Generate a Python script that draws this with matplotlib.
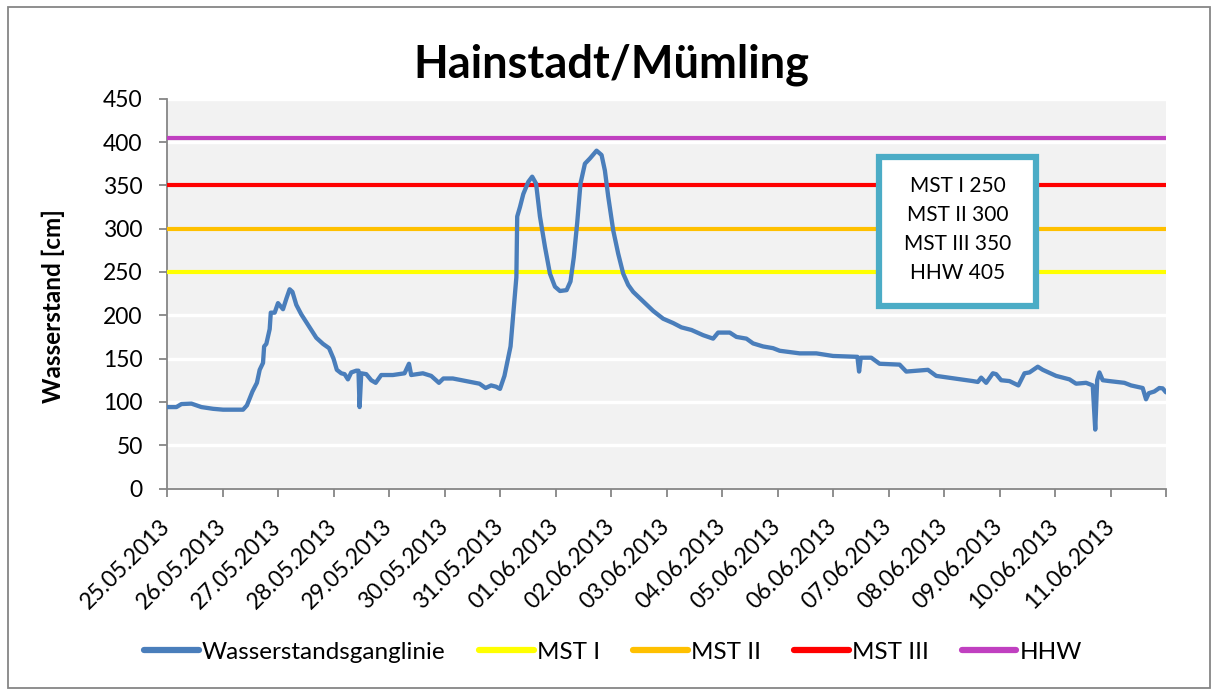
import datetime as dt
import matplotlib
matplotlib.use("Agg")
import matplotlib.pyplot as plt
from matplotlib.patches import Rectangle

plt.rcParams['font.family'] = ['Lato', 'DejaVu Sans']

# ---- data ----
start_date = dt.datetime(2013, 5, 25)
end_date = dt.datetime(2013, 6, 12)
days_since_start = [0, 0.17, 0.26, 0.44, 0.53, 0.62, 0.83, 1.01, 1.37, 1.44, 1.54, 1.62, 1.67, 1.73,
                    1.75, 1.79, 1.85, 1.87, 1.94, 2.0, 2.09, 2.15, 2.21, 2.26, 2.33, 2.42, 2.54, 2.69,
                    2.81, 2.92, 3.0, 3.06, 3.14, 3.2, 3.26, 3.32, 3.41, 3.45, 3.47, 3.5, 3.59, 3.68,
                    3.76, 3.86, 4.07, 4.28, 4.36, 4.4, 4.61, 4.76, 4.9, 4.98, 5.15, 5.39, 5.63, 5.74,
                    5.84, 5.93, 6.0, 6.08, 6.19, 6.235, 6.295, 6.31, 6.36, 6.42, 6.51, 6.58, 6.65,
                    6.72, 6.81, 6.9, 6.99, 7.08, 7.2, 7.27, 7.33, 7.39, 7.45, 7.53, 7.62, 7.74, 7.83,
                    7.89, 7.95, 8.04, 8.13, 8.22, 8.31, 8.4, 8.58, 8.76, 8.94, 9.12, 9.27, 9.45, 9.66,
                    9.84, 9.93, 10.14, 10.26, 10.44, 10.56, 10.74, 10.92, 11.04, 11.4, 11.7, 12.0,
                    12.44, 12.47, 12.5, 12.69, 12.84, 13.2, 13.32, 13.71, 13.86, 14.19, 14.52, 14.61,
                    14.67, 14.76, 14.88, 14.94, 15.03, 15.18, 15.34, 15.45, 15.54, 15.69, 15.78,
                    16.02, 16.26, 16.38, 16.56, 16.68, 16.725, 16.76, 16.8, 16.86, 16.98, 17.25,
                    17.37, 17.58, 17.64, 17.69, 17.79, 17.88, 17.94, 18.0]
water_level = [94, 94, 97.5, 98, 96, 94, 92, 91, 91, 96, 112, 122, 137, 145,
               164, 167, 184, 203, 203, 214, 207, 219, 230, 227, 212, 201, 189, 174,
               167, 162, 150, 137, 133, 132, 126, 134, 136, 136, 94, 133, 132, 125,
               122, 131, 131, 133, 144, 131, 133, 130, 122, 127, 127, 124, 121, 116,
               119, 117.5, 115, 130, 164, 198, 244, 314, 325, 340, 354, 360, 352,
               314, 279, 248, 233, 228, 229, 239, 267, 306, 352, 375, 381, 390, 385,
               367, 337, 298, 271, 248, 235, 227, 216, 205, 196, 191, 186, 183, 177,
               173, 180, 180, 175, 173, 167.5, 164, 162, 159, 156, 156, 153,
               152, 135, 151, 151, 144, 143, 135, 137, 130, 127, 124, 123,
               128, 122, 133, 132, 125, 124, 119, 133, 134, 140.6, 137,
               130, 126, 121, 122, 119, 68, 125, 134, 125, 124, 122,
               119, 116, 103, 110, 112, 116, 115.6, 111]

threshold_names = ['MST I', 'MST II', 'MST III', 'HHW']
threshold_values = [250, 300, 350, 405]
threshold_colors = ['#FFFF00', '#FFC000', '#FF0000', '#C040C0']
series_name = 'Wasserstandsganglinie'
title = 'Hainstadt/Mümling'
y_label = 'Wasserstand [cm]'
y_ticks = [0, 50, 100, 150, 200, 250, 300, 350, 400, 450]
n_days = 18
info_lines = ['MST I 250', 'MST II 300', 'MST III 350', 'HHW 405']

# ---- figure ----
W, H = 1214, 689
fig = plt.figure(figsize=(W / 100, H / 100), dpi=100)
fig.patch.set_facecolor('white')

def fx(px):
    return px / W

def fy(py):
    return 1 - py / H

ax = fig.add_axes([fx(167), fy(488.5), fx(1166) - fx(167), fy(98.7) - fy(488.5)])
ax.set_facecolor('#F2F2F2')

times = [start_date + dt.timedelta(days=d) for d in days_since_start]
ax.plot(times, water_level, color='#4A7EBB', lw=3.1, solid_joinstyle='round',
        solid_capstyle='round', label=series_name, zorder=4)
for name, val, col in zip(threshold_names, threshold_values, threshold_colors):
    ax.plot([start_date, end_date], [val, val], color=col, lw=3.0,
            solid_capstyle='round', label=name, zorder=3)

ax.set_xlim(start_date, end_date)
ax.set_ylim(0, 450)
ax.set_yticks(y_ticks)
ax.yaxis.grid(True, color='white', lw=2.4, zorder=1)
ax.set_axisbelow(True)

tick_dates = [start_date + dt.timedelta(days=i) for i in range(n_days + 1)]
tick_labels = [d.strftime('%d.%m.%Y') for d in tick_dates[:-1]] + ['']
ax.set_xticks(tick_dates)
ax.set_xticklabels(tick_labels, rotation=45, ha='right', va='center',
                   rotation_mode='anchor', fontsize=16.5)
ax.tick_params(axis='x', length=6, width=1.3, color='#868686', pad=19)
ax.tick_params(axis='y', length=5.5, width=1.3, color='#868686', pad=12, labelsize=16.5)

for s in ['top', 'right']:
    ax.spines[s].set_visible(False)
for s in ['left', 'bottom']:
    ax.spines[s].set_color('#868686')
    ax.spines[s].set_linewidth(1.3)

# title and y label
fig.text(fx(611.5), fy(77), title, fontsize=32.5, fontweight='bold', ha='center', va='baseline')
fig.text(fx(53), fy(306), y_label, fontsize=17.5, fontweight='bold', rotation=90,
         ha='center', va='center')

# info box
box = Rectangle((fx(879), fy(306)), fx(1036) - fx(879), fy(157) - fy(306),
                transform=fig.transFigure, facecolor='white', edgecolor='#4BACC6',
                lw=4.5, zorder=5)
fig.patches.append(box)
for i, line in enumerate(info_lines):
    fig.text(fx(958), fy(186 + i * 29), line, fontsize=15, ha='center', va='center', zorder=6)

# legend
leg = fig.legend(loc='center', bbox_to_anchor=(fx(613), fy(652)), ncol=5, frameon=False,
                 fontsize=17.5, handlelength=2.26, handletextpad=0.12, columnspacing=1.36)
for h in leg.get_lines():
    h.set_linewidth(4.5)
    h.set_solid_capstyle('round')

# outer border
border = Rectangle((fx(8), fy(688)), fx(1210) - fx(8), fy(7) - fy(688),
                   transform=fig.transFigure, facecolor='none', edgecolor='#868686', lw=1.3)
fig.patches.append(border)

fig.savefig('out.png', dpi=100)
